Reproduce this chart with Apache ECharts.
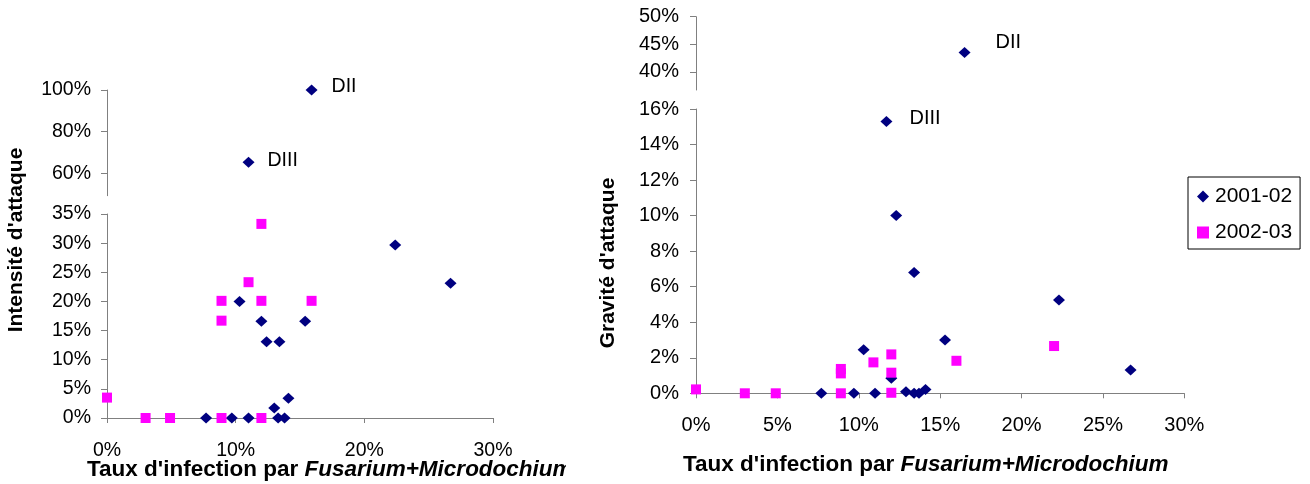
<!DOCTYPE html>
<html><head><meta charset="utf-8">
<script src="https://cdn.jsdelivr.net/npm/echarts@6/dist/echarts.min.js"></script>
<style>html,body{margin:0;padding:0;background:#fff}#c{width:1310px;height:484px}</style>
</head><body><div id="c"></div>
<script>
const seriesNames = ['2001-02', '2002-03'];

// Left panel: Intensité d'attaque vs infection rate (%)
const leftX2001 = [7.7, 9.7, 10.3, 11.0, 11.0, 12.0, 12.4, 13.0, 13.3, 13.4, 13.8, 14.1, 15.4, 15.9, 22.4, 26.7];
const leftY2001 = [0, 0, 20.0, 0, 65.3, 16.6, 13.1, 1.7, 0, 13.1, 0, 3.4, 16.6, 100, 29.7, 23.1];
const leftNames2001 = ['', '', '', '', 'DIII', '', '', '', '', '', '', '', '', 'DII', '', ''];
const leftX2002 = [0, 3.0, 4.9, 8.9, 8.9, 8.9, 11.0, 12.0, 12.0, 12.0, 15.9];
const leftY2002 = [3.5, 0, 0, 0, 20.1, 16.7, 23.3, 20.1, 0, 33.3, 20.1];

// Right panel: Gravité d'attaque vs infection rate (%)
const rightX2001 = [7.7, 9.7, 10.3, 11.0, 11.7, 12.0, 12.3, 12.9, 13.4, 13.4, 13.7, 14.1, 15.3, 16.5, 22.3, 26.7];
const rightY2001 = [0, 0, 2.45, 0, 15.3, 0.84, 10.0, 0.09, 6.8, 0, 0, 0.22, 3.0, 43.5, 5.25, 1.31];
const rightNames2001 = ['', '', '', '', 'DIII', '', '', '', '', '', '', '', '', 'DII', '', ''];
const rightX2002 = [0, 3.0, 4.9, 8.9, 8.9, 8.9, 10.9, 12.0, 12.0, 12.0, 16.0, 22.0];
const rightY2002 = [0.22, 0, 0, 0, 1.37, 1.12, 1.74, 2.19, 1.16, 0.03, 1.83, 2.66];

// Tick labels
const leftXTicks = [0, 10, 20, 30];
const leftYTicksLow = [0, 5, 10, 15, 20, 25, 30, 35];
const leftYTicksHigh = [60, 80, 100];
const rightXTicks = [0, 5, 10, 15, 20, 25, 30];
const rightYTicksLow = [0, 2, 4, 6, 8, 10, 12, 14, 16];
const rightYTicksHigh = [40, 45, 50];

const yTitleLeft = "Intensité d'attaque";
const yTitleRight = "Gravité d'attaque";
const xTitleA = "Taux d'infection par ";
const xTitleB = "Fusarium+Microdochium";

const FONT = 'Liberation Sans, Arial, sans-serif';
const NAVY = '#000080', PINK = '#FF00FF', AXIS = '#808080';

const labelStyle = {
  left: { DII: { distance: 14, offset: [0, -3] }, DIII: { distance: 13, offset: [0, -2] } },
  right: { DII: { distance: 25, offset: [0, -10] }, DIII: { distance: 17, offset: [0, -3] } }
};

function points(xs, ys, names, test, side, fs) {
  return xs.map((x, i) => {
    const n = names ? names[i] : '';
    const d = { value: [x, ys[i]] };
    if (n) {
      const s = labelStyle[side][n];
      d.label = { show: true, formatter: n, position: 'right', distance: s.distance, offset: s.offset,
        color: '#000', fontSize: fs, fontFamily: FONT };
    }
    return d;
  }).filter(d => test(d.value[1]));
}

function xAxis(grid, ticks, show, fs, margin) {
  return {
    type: 'value', gridIndex: grid, min: ticks[0], max: ticks[ticks.length - 1], show: show,
    splitLine: { show: false },
    axisLine: { show: true, onZero: false, lineStyle: { color: AXIS, width: 1 } },
    axisTick: { show: true, length: 5, lineStyle: { color: AXIS }, customValues: ticks },
    axisLabel: { customValues: ticks, formatter: '{value}%', color: '#000', fontSize: fs, fontFamily: FONT, margin: margin }
  };
}
function yAxis(grid, ticks, min, max, fs, margin) {
  return {
    type: 'value', gridIndex: grid, min: min, max: max,
    splitLine: { show: false },
    axisLine: { show: true, onZero: false, lineStyle: { color: AXIS, width: 1 } },
    axisTick: { show: true, length: 6, lineStyle: { color: AXIS }, customValues: ticks },
    axisLabel: { customValues: ticks, formatter: '{value}%', color: '#000', fontSize: fs, fontFamily: FONT, margin: margin }
  };
}

const LFS = 19.5, RFS = 20;
const diamond = { symbol: 'diamond', symbolSize: [12, 11], itemStyle: { color: NAVY, opacity: 1 } };
const square = { symbol: 'rect', symbolSize: [10, 10], itemStyle: { color: PINK, opacity: 1 } };

function scatter(name, style, grid, data) {
  return Object.assign({ type: 'scatter', name: name, xAxisIndex: grid, yAxisIndex: grid, data: data,
    animation: false, emphasis: { disabled: true } }, style);
}

const titleRich = {
  a: { fontSize: 22.5, fontWeight: 'bold', fontFamily: FONT, fill: '#000' },
  b: { fontSize: 22.5, fontWeight: 'bold', fontStyle: 'italic', fontFamily: FONT, fill: '#000' }
};

const chart = echarts.init(document.getElementById('c'), null, { renderer: 'canvas' });
chart.setOption({
  backgroundColor: '#fff',
  animation: false,
  grid: [
    { left: 107, top: 90, width: 386, height: 105.7 },
    { left: 107, top: 214, width: 386, height: 204 },
    { left: 696, top: 16.7, width: 488.3, height: 73.3 },
    { left: 696, top: 109, width: 488.3, height: 284.3 }
  ],
  xAxis: [
    xAxis(0, leftXTicks, false, LFS, 23),
    xAxis(1, leftXTicks, true, LFS, 23),
    xAxis(2, rightXTicks, false, RFS, 22),
    xAxis(3, rightXTicks, true, RFS, 22)
  ],
  yAxis: [
    yAxis(0, leftYTicksHigh, 49.3, 100, LFS, 16),
    yAxis(1, leftYTicksLow, 0, 35, LFS, 16),
    yAxis(2, rightYTicksHigh, 36.7, 50, RFS, 17),
    yAxis(3, rightYTicksLow, 0, 16, RFS, 17)
  ],
  legend: {
    orient: 'vertical', left: 1188, top: 177,
    borderColor: '#000', borderWidth: 1, padding: [9, 8, 6, 9],
    itemGap: 15, itemWidth: 12, itemHeight: 12,
    textStyle: { fontSize: 21, fontFamily: FONT, color: '#000', lineHeight: 20, padding: [0, 0, 0, 1] },
    selectedMode: false,
    data: [{ name: seriesNames[0], icon: 'diamond', itemStyle: { color: NAVY, opacity: 1 } },
           { name: seriesNames[1], icon: 'rect', itemStyle: { color: PINK, opacity: 1 } }]
  },
  series: [
    scatter(seriesNames[0], diamond, 0, points(leftX2001, leftY2001, leftNames2001, v => v > 40, 'left', LFS)),
    scatter(seriesNames[0], diamond, 1, points(leftX2001, leftY2001, leftNames2001, v => v <= 40, 'left', LFS)),
    scatter(seriesNames[1], square, 1, points(leftX2002, leftY2002, null, v => v <= 40, 'left', LFS)),
    scatter(seriesNames[0], diamond, 2, points(rightX2001, rightY2001, rightNames2001, v => v > 20, 'right', RFS)),
    scatter(seriesNames[0], diamond, 3, points(rightX2001, rightY2001, rightNames2001, v => v <= 20, 'right', RFS)),
    scatter(seriesNames[1], square, 3, points(rightX2002, rightY2002, null, v => v <= 20, 'right', RFS))
  ],
  graphic: [
    { type: 'text', x: 16, y: 240, rotation: Math.PI / 2, z: 10,
      style: { text: yTitleLeft, align: 'center', verticalAlign: 'middle', font: 'bold 21px ' + FONT, fill: '#000' } },
    { type: 'text', x: 608, y: 263, rotation: Math.PI / 2, z: 10,
      style: { text: yTitleRight, align: 'center', verticalAlign: 'middle', font: 'bold 21px ' + FONT, fill: '#000' } },
    { type: 'text', x: 87, y: 470, z: 10,
      style: { text: '{a|' + xTitleA + '}{b|' + xTitleB + '}', verticalAlign: 'middle', rich: titleRich } },
    { type: 'rect', shape: { x: 566, y: 452, width: 30, height: 32 }, style: { fill: '#fff' }, z: 20 },
    { type: 'text', x: 683, y: 465, z: 10,
      style: { text: '{a|' + xTitleA + '}{b|' + xTitleB + '}', verticalAlign: 'middle', rich: titleRich } }
  ]
});
</script>
</body></html>
